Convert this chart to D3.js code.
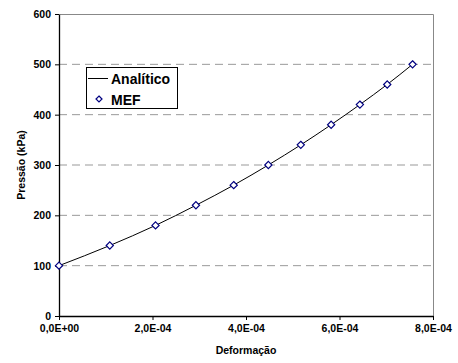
<!DOCTYPE html>
<html>
<head>
<meta charset="utf-8">
<script src="https://cdn.jsdelivr.net/npm/d3@7"></script>
<style>
  body { margin: 0; background: #fff; }
  text { font-family: "Liberation Sans", Arial, sans-serif; font-weight: bold; }
</style>
</head>
<body>
<script>
// deformação (x) e pressão kPa (y)
const deformacao = [0, 1.086e-4, 2.065e-4, 2.929e-4, 3.737e-4, 4.478e-4, 5.172e-4, 5.821e-4, 6.436e-4, 7.021e-4, 7.563e-4];
const pressaoMEF = [100, 140, 180, 220, 260, 300, 340, 380, 420, 460, 500];
const pressaoAnalitico = [100, 140, 180, 220, 260, 300, 340, 380, 420, 460, 500];
const xTicks = [0, 2e-4, 4e-4, 6e-4, 8e-4];
const yTicks = [0, 100, 200, 300, 400, 500, 600];

const W = 458, H = 363;
const margin = { top: 14, right: 25, bottom: 47, left: 59 };
const width = W - margin.left - margin.right,
      height = H - margin.top - margin.bottom;

let svg = d3.select("body").append("svg")
    .attr("width", W)
    .attr("height", H);

let g = svg.append("g")
    .attr("transform", "translate(" + margin.left + "," + margin.top + ")");

let x = d3.scaleLinear().domain([0, 8e-4]).range([0, width]);
let y = d3.scaleLinear().domain([0, 600]).range([height, 0]);

// formato 0,0E+00
function fmtE(v) {
    if (v === 0) return "0,0E+00";
    let e = Math.floor(Math.log10(v) + 1e-9);
    let m = v / Math.pow(10, e);
    let s = e < 0 ? "-" : "+";
    return m.toFixed(1).replace(".", ",") + "E" + s + String(Math.abs(e)).padStart(2, "0");
}

// gridlines
g.selectAll(".grid")
    .data(yTicks.filter(d => d > 0 && d < 600))
    .enter().append("line")
    .attr("x1", 0).attr("x2", width)
    .attr("y1", d => y(d)).attr("y2", d => y(d))
    .attr("stroke", "#999")
    .attr("stroke-width", 1)
    .attr("stroke-dasharray", "8,5");

// top and right border
g.append("path")
    .attr("d", "M0.5,0.5H" + (width + 0.5) + "V" + height)
    .attr("fill", "none")
    .attr("stroke", "#888");

let xAxis = g.append("g")
    .attr("transform", "translate(0," + height + ")")
    .call(d3.axisBottom(x).tickValues(xTicks).tickFormat(fmtE).tickSizeInner(4).tickSizeOuter(0).tickPadding(5));

let yAxis = g.append("g")
    .call(d3.axisLeft(y).tickValues(yTicks).tickSizeInner(4).tickSizeOuter(0).tickPadding(4));

[xAxis, yAxis].forEach(a => {
    a.select(".domain").attr("stroke", "#000").attr("stroke-width", 1.3);
    a.selectAll(".tick line").attr("stroke", "#000");
    a.selectAll(".tick text").attr("fill", "#000").style("font-size", "10.5px")
        .style("font-family", "'Liberation Sans', Arial, sans-serif").style("font-weight", "bold");
});

// analytic line
let line = d3.line()
    .x((d, i) => x(deformacao[i]))
    .y(d => y(d))
    .curve(d3.curveMonotoneX);

g.append("path")
    .datum(pressaoAnalitico)
    .attr("d", line)
    .attr("fill", "none")
    .attr("stroke", "#000")
    .attr("stroke-width", 1);

// MEF markers
let diamond = "M0,-3.6L3.6,0L0,3.6L-3.6,0Z";
g.selectAll(".dot")
    .data(pressaoMEF)
    .enter().append("path")
    .attr("class", "dot")
    .attr("d", diamond)
    .attr("transform", (d, i) => "translate(" + x(deformacao[i]) + "," + y(d) + ")")
    .attr("fill", "#fff")
    .attr("stroke", "#000080")
    .attr("stroke-width", 1.2);

// axis titles
svg.append("text")
    .attr("x", margin.left + width / 2)
    .attr("y", 354)
    .attr("text-anchor", "middle")
    .style("font-size", "10.5px")
    .text("Deformação");

svg.append("text")
    .attr("transform", "translate(25," + (margin.top + height / 2) + ") rotate(-90)")
    .attr("text-anchor", "middle")
    .style("font-size", "10.5px")
    .text("Pressão (kPa)");

// legend
let lg = svg.append("g").attr("transform", "translate(86,67)");
lg.append("rect")
    .attr("x", 0.5).attr("y", 0.5)
    .attr("width", 91).attr("height", 41)
    .attr("fill", "#fff")
    .attr("stroke", "#000");
lg.append("line")
    .attr("x1", 2).attr("x2", 22)
    .attr("y1", 11.5).attr("y2", 11.5)
    .attr("stroke", "#000");
lg.append("text")
    .attr("x", 25).attr("y", 16.5)
    .style("font-size", "14px")
    .text("Analítico");
lg.append("path")
    .attr("d", "M0,-3L3,0L0,3L-3,0Z")
    .attr("transform", "translate(13,32)")
    .attr("fill", "#fff")
    .attr("stroke", "#000080")
    .attr("stroke-width", 1.2);
lg.append("text")
    .attr("x", 25).attr("y", 37.5)
    .style("font-size", "14px")
    .text("MEF");
</script>
</body>
</html>
